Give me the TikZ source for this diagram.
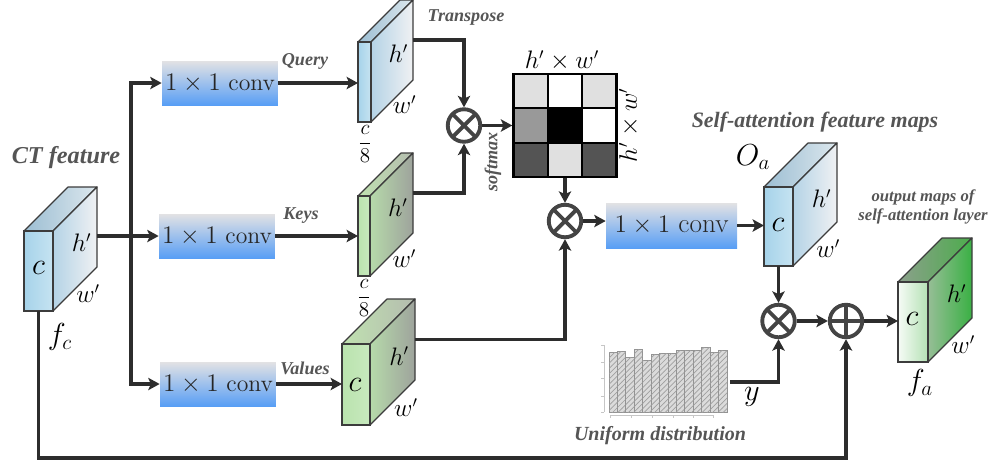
\documentclass[tikz,border=0pt]{standalone}
\usepackage{amsmath}
\usepackage{fontspec}
\newfontfamily\capfont{Liberation Serif}
\usetikzlibrary{arrows.meta,positioning,calc,patterns}

\definecolor{edge}{RGB}{60,60,60}
\definecolor{wire}{RGB}{45,45,45}
\definecolor{opgray}{RGB}{68,68,68}
\definecolor{tagtext}{RGB}{85,85,85}
\definecolor{convtop}{RGB}{226,226,228}
\definecolor{convbot}{RGB}{88,158,245}
% blue maps
\definecolor{bluefrontL}{RGB}{166,211,234}
\definecolor{bluefrontR}{RGB}{198,227,241}
\definecolor{bluesideL}{RGB}{180,211,230}
\definecolor{bluesideR}{RGB}{240,241,243}
\definecolor{bluetopL}{RGB}{156,190,211}
\definecolor{bluetopR}{RGB}{220,231,237}
% green maps
\definecolor{greenfrontL}{RGB}{186,227,174}
\definecolor{greenfrontR}{RGB}{200,233,190}
\definecolor{greensideL}{RGB}{182,218,170}
\definecolor{greensideR}{RGB}{158,163,156}
\definecolor{greentopL}{RGB}{192,226,176}
\definecolor{greentopR}{RGB}{180,188,175}
% output map
\definecolor{outfrontL}{RGB}{246,251,246}
\definecolor{outfrontR}{RGB}{180,225,180}
\definecolor{outsideL}{RGB}{150,190,150}
\definecolor{outsideR}{RGB}{58,176,68}
\definecolor{outtopL}{RGB}{140,160,140}
\definecolor{outtopR}{RGB}{76,172,76}

\tikzset{
  flow/.style = {-{Stealth[length=6.5pt,width=7pt,inset=1.5pt]}, draw=wire, line width=1.8pt},
  convbox/.style = {top color=convtop, bottom color=convbot, minimum width=2.32cm, minimum height=0.88cm, inner sep=0pt, text=black!85, font=\fontsize{13.5}{15}\selectfont},
  tag/.style = {font=\capfont\bfseries\itshape\fontsize{#1}{#1}\selectfont, text=tagtext, inner sep=0pt},
  tag/.default = 10.3,
  dimlabel/.style = {font=\fontsize{#1}{#1}\selectfont, inner sep=0pt},
  dimlabel/.default = 13.5,
  maplabel/.style = {font=\fontsize{18}{20}\selectfont, inner sep=0pt},
  mulop/.style = {circle, draw=opgray, fill=white, line width=2.2pt, minimum size=0.65cm, inner sep=0pt,
    path picture={\draw[opgray, line width=2.2pt] (path picture bounding box.south west) -- (path picture bounding box.north east)
      (path picture bounding box.north west) -- (path picture bounding box.south east);}},
  addop/.style = {circle, draw=opgray, fill=white, line width=2.2pt, minimum size=0.65cm, inner sep=0pt,
    path picture={\draw[opgray, line width=2.2pt] (path picture bounding box.north) -- (path picture bounding box.south)
      (path picture bounding box.west) -- (path picture bounding box.east);}},
}

% feature map box: name, x, y (front top left), width, height, depth, colour set
\newcommand{\featmap}[7]{%
  \shade[left color=#7topL, right color=#7topR, draw=edge, line width=0.7pt, line join=round]
    (#2,#3) -- ++(#4,0) -- ++(#6,-#6) -- ++(-#4,0) -- cycle;
  \shade[left color=#7sideL, right color=#7sideR, draw=edge, line width=0.7pt, line join=round]
    (#2+#4,#3) -- ++(#6,-#6) -- ++(0,#5) -- ++(-#6,#6) -- cycle;
  \shade[left color=#7frontL, right color=#7frontR, draw=edge, line width=0.7pt]
    (#2,#3) rectangle ++(#4,#5);
  \coordinate (#1-w) at (#2,#3+#5/2);
  \coordinate (#1-s) at (#2+#4/2,#3+#5);
  \coordinate (#1-e) at (#2+#4+#6,#3+#5/2-#6);
  \node[dimlabel] (#1-h) at (#2+#4+0.65*#6,#3+0.15*#5) {$h'$};
  \node[dimlabel] (#1-d) at (#2+#4+0.8*#6,#3+#5-17) {$w'$};
}

\begin{document}
\begin{tikzpicture}[x=0.02cm, y=-0.02cm]
\useasboundingbox (0,0) rectangle (989,461);

% CT feature map
\featmap{ct}{24}{231}{29}{80}{44}{blue}
\node[dimlabel=16] (ct-c) at (38.5,268) {$c$};
\node[maplabel] (ct-name) at (60,337) {$f_c$};
\node[tag=13.8] (ct-title) at (66,158) {CT feature};

% query, key, value branches
\node[convbox] (qconv) at (220,83) {$1\times1$ conv};
\node[convbox] (kconv) at (217,236) {$1\times1$ conv};
\node[convbox] (vconv) at (218,384) {$1\times1$ conv};
\coordinate (split) at (131,236);

\featmap{qcube}{358}{42}{13}{80}{42}{blue}
\node[dimlabel=12.5] (qcube-frac) at (365,144) {$\dfrac{c}{8}$};
\featmap{kcube}{358}{196}{12}{80}{43}{green}
\node[dimlabel=12.5] (kcube-frac) at (364,298) {$\dfrac{c}{8}$};
\featmap{vcube}{342}{344}{28}{81}{45}{green}
\node[dimlabel=16] (vcube-c) at (355,385) {$c$};

\node[tag] (q-tag) at (305,61) {Query};
\node[tag] (k-tag) at (301,216) {Keys};
\node[tag] (v-tag) at (305,368) {Values};
\node[tag] (t-tag) at (466,17) {Transpose};
\node[tag, rotate=90] (s-tag) at (493,162) {softmax};

% attention map
\foreach \c/\r/\g in {0/0/88, 1/0/100, 2/0/88, 0/1/60, 1/1/0, 2/1/100, 0/2/33, 1/2/88, 2/2/33}
  \fill[white!\g!black] (513.5+\c*34.33,74+\r*34.33) rectangle ++(34.33,34.33);
\foreach \k in {1,2} {
  \draw[line width=1.2pt] (513.5+\k*34.33,74) -- ++(0,103);
  \draw[line width=1.2pt] (513.5,74+\k*34.33) -- ++(103,0);
}
\node[draw, line width=1.4pt, minimum width=2.06cm, minimum height=2.06cm, inner sep=0pt] (attn) at (565,125.5) {};
\node[dimlabel] (attn-top) at (562,61) {$h'\times w'$};
\node[dimlabel, rotate=90] (attn-side) at (629,125) {$h'\times w'$};

\node[mulop] (mul1) at (464,125.5) {};
\node[mulop] (mul2) at (565,221) {};
\node[convbox, minimum width=2.62cm, minimum height=0.9cm, font=\fontsize{15.5}{17}\selectfont] (oconv) at (671.5,225.5) {$1\times1$ conv};

% self-attention feature maps
\featmap{ocube}{764}{187}{29}{79}{44}{blue}
\node[dimlabel=16] (ocube-c) at (778,225) {$c$};
\node[maplabel] (oa-name) at (753,157) {$O_a$};
\node[tag=12.5] (oa-title) at (815,122) {Self-attention feature maps};

% uniform distribution
\foreach \i/\t in {0/352.3, 1/351.3, 2/357.3, 3/349.3, 4/360.3, 5/354.3, 6/353.3, 7/353.3, 8/350.3, 9/350.3, 10/350.7, 11/347.3, 12/352.3, 13/350.3}
  \draw[draw=gray!85, line width=0.5pt, fill=gray!28, postaction={pattern=north east lines, pattern color=gray!75}]
    (609+\i*8.43,412) rectangle (609+\i*8.43+8.43,\t);
\draw[gray!45, line width=0.5pt] (604,345) -- (604,412);
\foreach \t in {345,362,378,396,412}
  \draw[gray!45, line width=0.5pt] (601,\t) -- (604,\t);
\draw[gray!45, line width=0.5pt] (610,415) -- (713,415);
\foreach \t in {610,631,652,673,693,713}
  \draw[gray!45, line width=0.5pt] (\t,415) -- (\t,418);
\coordinate (hist-out) at (730,382);
\node[maplabel] (y-name) at (752,397) {$y$};
\node[tag=11.4] (u-tag) at (660,436) {Uniform distribution};

\node[mulop] (mul3) at (778.5,321) {};
\node[addop] (add) at (846,321) {};

% output maps
\featmap{fa}{898}{282}{30}{80}{44}{out}
\node[dimlabel=16] (fa-c) at (912,319) {$c$};
\node[maplabel] (fa-name) at (920,383) {$f_a$};
\node[tag, font=\capfont\bfseries\itshape\fontsize{9.5}{11}\selectfont, align=center] (fa-title) at (923,207) {output maps of\\self-attention layer};

% connections
\draw[flow] (kconv.west -| ct-e) -- (kconv.west);
\draw[flow] (split) |- (qconv.west);
\draw[flow] (split) |- (vconv.west);
\draw[flow] (qconv.east) -- (qconv.east -| qcube-w);
\draw[flow] (kconv.east) -- (kconv.east -| kcube-w);
\draw[flow] (vconv.east) -- (vconv.east -| vcube-w);
\draw[flow] (qcube-e) -| (mul1.north);
\draw[flow] (kcube-e) -| (mul1.south);
\draw[flow] (mul1.east) -- (attn.west);
\draw[flow] (attn.south) -- (mul2.north);
\draw[flow] (vcube-e) -| (mul2.south);
\draw[flow] (mul2.east) -- (mul2.east -| oconv.west);
\draw[flow] (oconv.east) -- (oconv.east -| ocube-w);
\draw[flow] (ocube-s) -- (mul3.north);
\draw[flow] (hist-out) -| (mul3.south);
\draw[flow] (mul3.east) -- (add.west);
\draw[flow] (add.east) -- (add.east -| fa-w);
\coordinate (skip) at (38.5,458);
\draw[flow] (ct-s) -- (skip) -| (add.south);

\end{tikzpicture}
\end{document}
